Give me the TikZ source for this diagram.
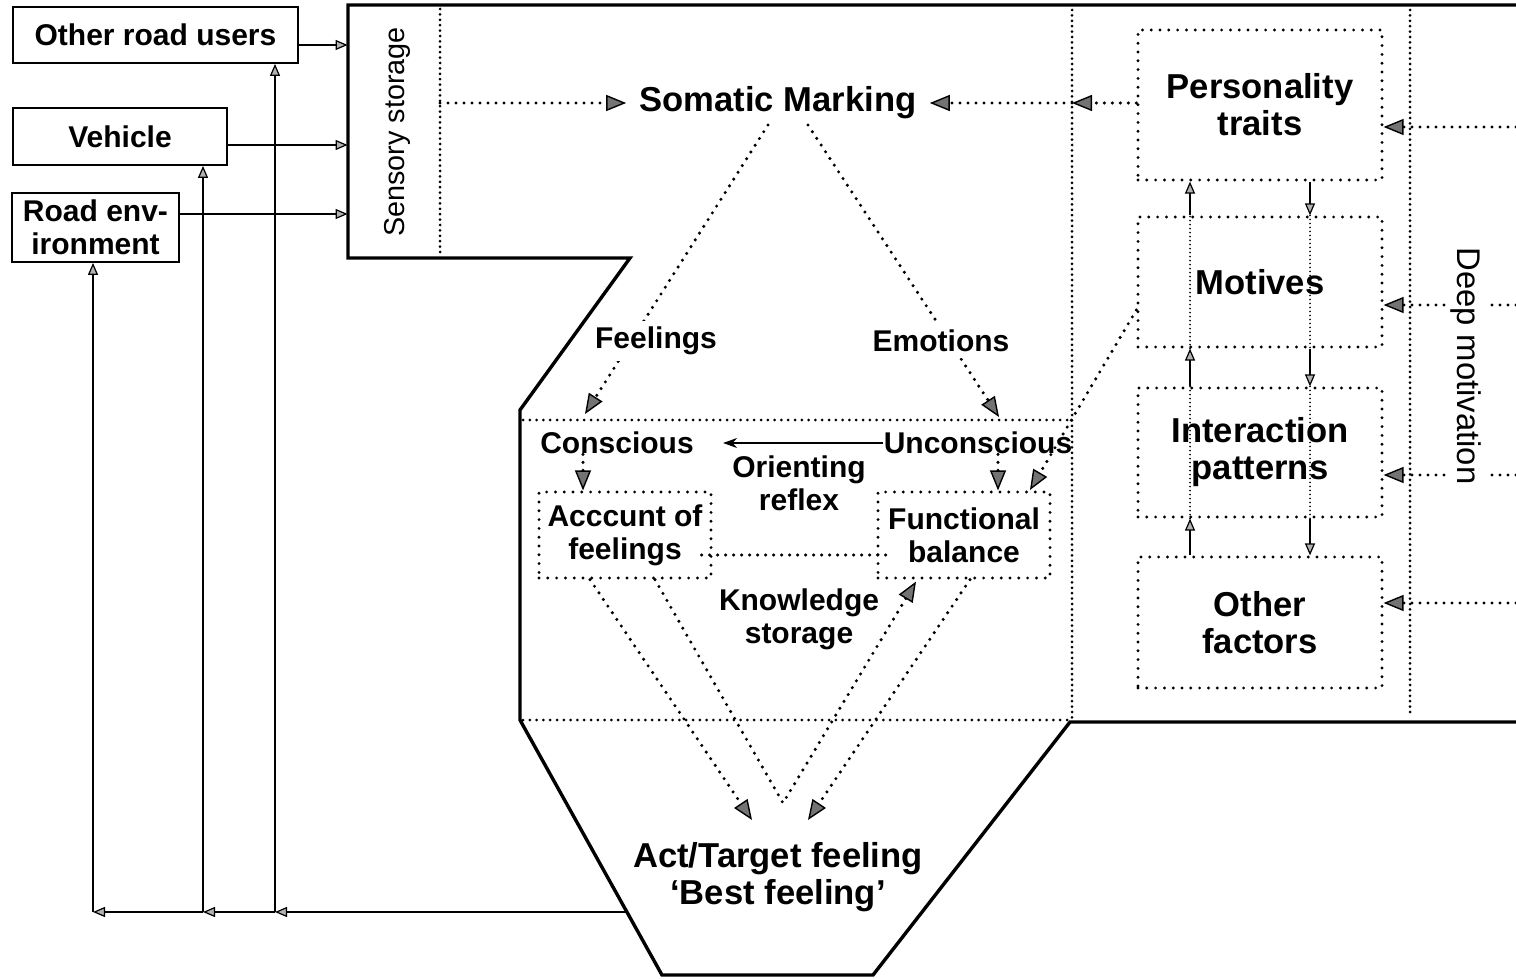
\documentclass[tikz,border=0pt]{standalone}
\usepackage{fontspec}
\setmainfont{Liberation Sans}
\usetikzlibrary{arrows.meta,calc}
\begin{document}
\begin{tikzpicture}[x=0.5pt,y=-0.5pt,
  big/.style={font=\fontsize{17.3}{18.5}\selectfont\bfseries,align=center,inner sep=0pt},
  small/.style={font=\fontsize{15}{16.5}\selectfont\bfseries,align=center,inner sep=0pt},
  outline/.style={line width=1.7pt,line join=miter},
  thinl/.style={line width=0.75pt},
  dots/.style={line width=1.7pt,line cap=round,dash pattern=on 0pt off 4pt},
  sepv/.style={line width=1.5pt,line cap=round,dash pattern=on 0pt off 2.7pt},
  seph/.style={line width=1.5pt,line cap=round,dash pattern=on 0pt off 3.4pt},
  fine/.style={line width=0.9pt,line cap=round,dash pattern=on 0pt off 2pt},
  dbox/.style={draw,line width=1.6pt,line cap=round,dash pattern=on 0pt off 4.4pt},
  sbox/.style={draw,line width=0.9pt},
  bighead/.style={-{Triangle[length=10pt,width=8pt,fill=black!55,line width=0.7pt]}},
  smallhead/.style={-{Triangle[length=6pt,width=5pt,fill=black!30,line width=0.6pt]}},
]
\useasboundingbox (0,0) rectangle (1516,979);

% main outline
\draw[outline] (1516,5) -- (348,5) -- (348,258) -- (630,258) -- (520,410) -- (520,720)
  -- (662,975) -- (873,975) -- (1070,722) -- (1516,722);

% separators
\draw[sepv] (440,9) -- (440,255);
\draw[sepv] (1072,10) -- (1072,719);
\draw[sepv] (1410,10) -- (1410,717);
\draw[seph] (523,420) -- (1072,420);
\draw[seph] (523,720) -- (1072,720);

% left boxes
\node[sbox,small,minimum width=142.5pt,minimum height=28pt] (oru) at (155.5,35) {Other road users};
\node[sbox,small,minimum width=107pt,minimum height=28.5pt] (veh) at (120,136.5) {Vehicle};
\node[sbox,small,minimum width=83.5pt,minimum height=34.5pt] (renv) at (95.5,227.5) {Road env-\\ironment};

% sensory storage
\node[minimum width=46pt,minimum height=126.5pt,inner sep=0pt] (ss) at (394,131.5) {};
\node[rotate=90,font=\fontsize{14.4}{15}\selectfont,inner sep=0pt] (sst) at (397,132) {Sensory storage};

\draw[thinl,smallhead] (oru.east |- 0,45) -- (ss.west |- 0,45);
\draw[thinl,smallhead] (veh.east |- 0,145) -- (ss.west |- 0,145);
\draw[thinl,smallhead] (renv.east |- 0,214) -- (ss.west |- 0,214);

% somatic marking
\node[big,inner xsep=6.5pt] (sm) at (778,103) {Somatic Marking};
\coordinate (ssR) at (440,103);
\coordinate (vx) at (1072,103);
\draw[dots,bighead] (ssR) -- (sm.west);
\draw[dots,bighead] (vx) -- (sm.east);

% right column boxes
\node[dbox,big,minimum width=122pt,minimum height=75pt] (pt) at (1260,105) {Personality\\traits};
\node[dbox,big,minimum width=122pt,minimum height=65pt] (mot) at (1260,282) {Motives};
\node[dbox,big,minimum width=122pt,minimum height=64.5pt] (ip) at (1260,452.5) {Interaction\\patterns};
\node[dbox,big,minimum width=122pt,minimum height=65.5pt] (of) at (1260,622.5) {Other\\factors};

\draw[dots,bighead] (pt.west |- vx) -- (vx);

% vertical links
\draw[thinl,smallhead] (of.north -| 1190,0) -- (ip.south -| 1190,0);
\draw[fine] (ip.south -| 1190,0) -- (ip.north -| 1190,0);
\draw[thinl,smallhead] (ip.north -| 1190,0) -- (mot.south -| 1190,0);
\draw[fine] (mot.south -| 1190,0) -- (mot.north -| 1190,0);
\draw[thinl,smallhead] (mot.north -| 1190,0) -- (pt.south -| 1190,0);

\draw[thinl,smallhead] (pt.south -| 1310,0) -- (mot.north -| 1310,0);
\draw[fine] (mot.north -| 1310,0) -- (mot.south -| 1310,0);
\draw[thinl,smallhead] (mot.south -| 1310,0) -- (ip.north -| 1310,0);
\draw[fine] (ip.north -| 1310,0) -- (ip.south -| 1310,0);
\draw[thinl,smallhead] (ip.south -| 1310,0) -- (of.north -| 1310,0);

% deep motivation inputs
\coordinate (r1) at (1516,127);
\coordinate (r2) at (1516,305);
\coordinate (r3) at (1516,475);
\coordinate (r4) at (1516,603);
\draw[dots,bighead] (r1) -- (pt.east |- r1);
\draw[dots,bighead] (r2) -- (mot.east |- r2);
\draw[dots,bighead] (r3) -- (ip.east |- r3);
\draw[dots,bighead] (r4) -- (of.east |- r4);
\node[rotate=-90,fill=white,font=\fontsize{16.4}{17}\selectfont,inner xsep=2pt,inner ysep=2.5pt] (dm) at (1466,366) {Deep motivation};

% conscious / unconscious
\node[small] (con) at (617,443) {Conscious};
\node[small] (unc) at (978,443) {Unconscious};
\node[small] (orr) at (799,483) {Orienting\\reflex};
\draw[thinl,-{Stealth[length=7pt,width=5pt]},shorten >=14.5pt] (unc.west) -- (con.east);

\node[dbox,small,minimum width=86pt,minimum height=43pt] (acc) at (625,535) {Acccunt of\\feelings};
\node[dbox,small,minimum width=86pt,minimum height=43pt] (fb) at (964,535) {Functional\\balance};

\draw[dots,bighead] (con.south -| 583,0) -- (acc.north -| 583,0);
\draw[dots,bighead] (unc.south -| 998,0) -- (fb.north -| 998,0);
\coordinate (fbT) at (1030,490);
\draw[dots,bighead] (mot.west |- 0,310) -- (fbT);
\draw[dots] ($(acc.east)+(-11,20)$) -- ($(fb.west)+(12,20)$);

\node[small] (ks) at (799,619) {Knowledge\\storage};

% feelings / emotions
\coordinate (smL) at (768,125);
\coordinate (smR) at (808,125);
\coordinate (conT) at (585,414);
\coordinate (uncT) at (999,417);
\draw[dots,bighead] (smL) -- (conT);
\draw[dots,bighead] (smR) -- (uncT);
\node[small,fill=white,inner sep=3pt] (fe) at (656,341) {Feelings};
\node[small,fill=white,inner sep=3pt] (em) at (941,341) {Emotions};

% act
\node[big] (act) at (778,877) {Act/Target feeling\\‘Best feeling’};
\coordinate (actL) at (752,820);
\coordinate (actR) at (808,820);
\coordinate (apex) at (783,803);
\draw[dots,bighead] ($(acc.south)+(-35,0)$) -- (actL);
\draw[dots,bighead] ($(acc.south)+(30,0)$) -- (apex) -- ($(fb.south)+(-48,2)$);
\draw[dots,bighead] ($(fb.south)+(6,0)$) -- (actR);

% feedback
\coordinate (hexL) at (627,912);
\coordinate (j1) at (275,912);
\coordinate (j2) at (203,912);
\coordinate (j3) at (93,912);
\draw[thinl,smallhead] (hexL) -- (j1);
\draw[thinl,smallhead] (j1) -- (j2);
\draw[thinl,smallhead] (j2) -- (j3);
\draw[thinl,smallhead] (j1) -- (j1 |- oru.south);
\draw[thinl,smallhead] (j2) -- (j2 |- veh.south);
\draw[thinl,smallhead] (j3) -- (j3 |- renv.south);
\end{tikzpicture}
\end{document}
